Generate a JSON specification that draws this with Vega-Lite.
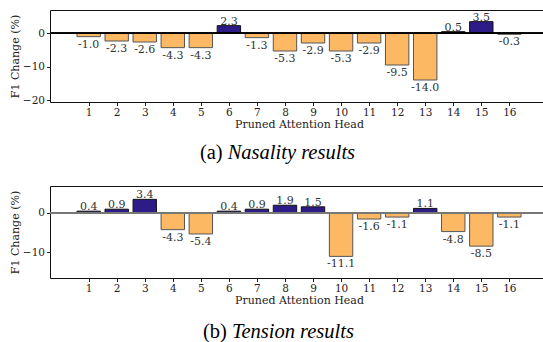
{
  "$schema": "https://vega.github.io/schema/vega-lite/v6.json",
  "padding": {"left": 8, "top": 9, "right": 0, "bottom": 0},
  "background": "white",
  "spacing": 21,
  "config": {
    "locale": {"number": {"decimal": ".", "thousands": ",", "grouping": [3], "currency": ["$", ""], "minus": "-"}},
    "view": {"stroke": "#111", "strokeWidth": 1},
    "axis": {
      "grid": false, "domain": false,
      "labelFont": "DejaVu Serif", "labelFontSize": 10.5, "labelColor": "#222",
      "titleFont": "DejaVu Serif", "titleFontSize": 11, "titleFontWeight": "normal", "titleColor": "#222",
      "tickColor": "#222", "tickSize": 3.5, "tickWidth": 1, "labelPadding": 2
    }
  },
  "datasets": {
    "nasality": [
      {"head": 1, "value": -1.0}, {"head": 2, "value": -2.3}, {"head": 3, "value": -2.6}, {"head": 4, "value": -4.3},
      {"head": 5, "value": -4.3}, {"head": 6, "value": 2.3}, {"head": 7, "value": -1.3}, {"head": 8, "value": -5.3},
      {"head": 9, "value": -2.9}, {"head": 10, "value": -5.3}, {"head": 11, "value": -2.9}, {"head": 12, "value": -9.5},
      {"head": 13, "value": -14.0}, {"head": 14, "value": 0.5}, {"head": 15, "value": 3.5}, {"head": 16, "value": -0.3}
    ],
    "tension": [
      {"head": 1, "value": 0.4}, {"head": 2, "value": 0.9}, {"head": 3, "value": 3.4}, {"head": 4, "value": -4.3},
      {"head": 5, "value": -5.4}, {"head": 6, "value": 0.4}, {"head": 7, "value": 0.9}, {"head": 8, "value": 1.9},
      {"head": 9, "value": 1.5}, {"head": 10, "value": -11.1}, {"head": 11, "value": -1.6}, {"head": 12, "value": -1.1},
      {"head": 13, "value": 1.1}, {"head": 14, "value": -4.8}, {"head": 15, "value": -8.5}, {"head": 16, "value": -1.1}
    ]
  },
  "vconcat": [
    {
      "width": 498, "height": 92,
      "data": {"name": "nasality"},
      "encoding": {
        "x": {"field": "head", "type": "quantitative", "scale": {"domain": [-0.2, 17.2], "nice": false, "zero": false},
              "axis": {"values": [1,2,3,4,5,6,7,8,9,10,11,12,13,14,15,16], "title": "Pruned Attention Head", "titlePadding": 0}},
        "y": {"field": "value", "type": "quantitative", "scale": {"domain": [-20.6, 7.0], "nice": false},
              "axis": {"values": [0, -10, -20], "title": "F1 Change (%)", "titlePadding": 2, "labelExpr": "replace(datum.label, '-', '\u2212')"}}
      },
      "layer": [
        {"mark": {"type": "bar", "size": 23.4, "strokeWidth": 1},
         "encoding": {
           "color": {"condition": {"test": "datum.value > 0", "value": "#2d1b87"}, "value": "#fdb863"},
           "stroke": {"condition": {"test": "datum.value > 0", "value": "#111"}, "value": "#555"}
         }},
        {"mark": {"type": "rule", "color": "#000", "strokeWidth": 1}, "encoding": {"y": {"datum": 0}, "x": {}}},
        {"transform": [{"filter": "datum.value > 0"}],
         "mark": {"type": "text", "font": "DejaVu Serif", "fontSize": 11, "color": "#333", "baseline": "alphabetic", "dy": -1},
         "encoding": {"text": {"field": "value", "type": "quantitative", "format": ".1f"}}},
        {"transform": [{"filter": "datum.value < 0"}],
         "mark": {"type": "text", "font": "DejaVu Serif", "fontSize": 11, "color": "#333", "baseline": "top", "dy": 2},
         "encoding": {"text": {"field": "value", "type": "quantitative", "format": ".1f"}}},
        {"transform": [{"filter": "datum.head == 1"}],
         "mark": {"type": "text", "clip": false, "font": "Liberation Serif", "fontSize": 20.5, "color": "#000", "align": "right", "baseline": "middle", "dx": -2},
         "encoding": {"text": {"value": "(a)"}, "x": {"datum": 5.85}, "y": {"datum": -35.8}}},
        {"transform": [{"filter": "datum.head == 1"}],
         "mark": {"type": "text", "clip": false, "font": "Liberation Serif", "fontSize": 20.5, "fontStyle": "italic", "color": "#000", "align": "left", "baseline": "middle", "dx": 3},
         "encoding": {"text": {"value": "Nasality results"}, "x": {"datum": 5.85}, "y": {"datum": -35.8}}}
      ]
    },
    {
      "width": 498, "height": 92,
      "data": {"name": "tension"},
      "encoding": {
        "x": {"field": "head", "type": "quantitative", "scale": {"domain": [-0.2, 17.2], "nice": false, "zero": false},
              "axis": {"values": [1,2,3,4,5,6,7,8,9,10,11,12,13,14,15,16], "title": "Pruned Attention Head", "titlePadding": 0}},
        "y": {"field": "value", "type": "quantitative", "scale": {"domain": [-16.6, 6.8], "nice": false},
              "axis": {"values": [0, -10], "title": "F1 Change (%)", "titlePadding": 2, "labelExpr": "replace(datum.label, '-', '\u2212')"}}
      },
      "layer": [
        {"mark": {"type": "bar", "size": 23.4, "strokeWidth": 1},
         "encoding": {
           "color": {"condition": {"test": "datum.value > 0", "value": "#2d1b87"}, "value": "#fdb863"},
           "stroke": {"condition": {"test": "datum.value > 0", "value": "#111"}, "value": "#555"}
         }},
        {"mark": {"type": "rule", "color": "#777", "strokeWidth": 1}, "encoding": {"y": {"datum": 0}, "x": {}}},
        {"transform": [{"filter": "datum.value > 0"}],
         "mark": {"type": "text", "font": "DejaVu Serif", "fontSize": 11, "color": "#333", "baseline": "alphabetic", "dy": -1},
         "encoding": {"text": {"field": "value", "type": "quantitative", "format": ".1f"}}},
        {"transform": [{"filter": "datum.value < 0"}],
         "mark": {"type": "text", "font": "DejaVu Serif", "fontSize": 11, "color": "#333", "baseline": "top", "dy": 2},
         "encoding": {"text": {"field": "value", "type": "quantitative", "format": ".1f"}}},
        {"transform": [{"filter": "datum.head == 1"}],
         "mark": {"type": "text", "clip": false, "font": "Liberation Serif", "fontSize": 20.5, "color": "#000", "align": "right", "baseline": "middle", "dx": -2},
         "encoding": {"text": {"value": "(b)"}, "x": {"datum": 6.0}, "y": {"datum": -30.4}}},
        {"transform": [{"filter": "datum.head == 1"}],
         "mark": {"type": "text", "clip": false, "font": "Liberation Serif", "fontSize": 20.5, "fontStyle": "italic", "color": "#000", "align": "left", "baseline": "middle", "dx": 3},
         "encoding": {"text": {"value": "Tension results"}, "x": {"datum": 6.0}, "y": {"datum": -30.4}}}
      ]
    }
  ]
}
